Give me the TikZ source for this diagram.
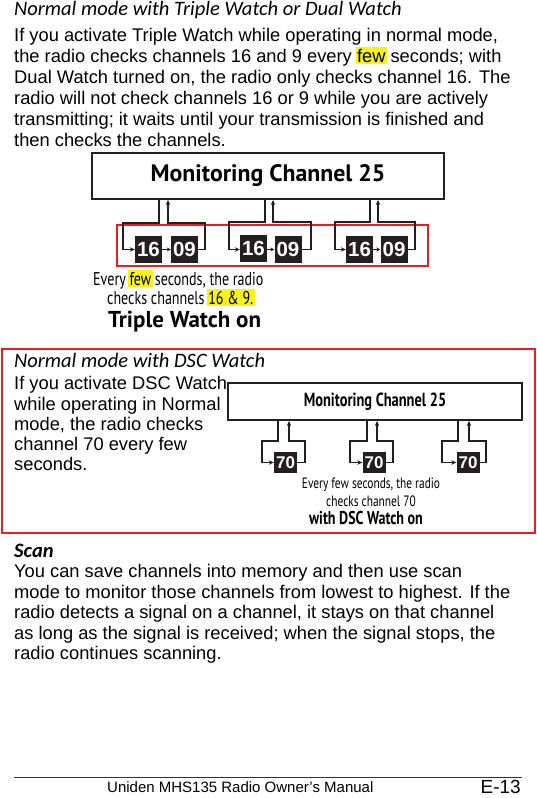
\documentclass[tikz,border=0pt]{standalone}
\usepackage{fontspec}
\setmainfont{Liberation Sans}
\newfontfamily\headfont{Carlito}
\newfontfamily\diagfont{PT Sans}
\newfontfamily\condfont[FakeStretch=0.76]{PT Sans}
\usetikzlibrary{arrows.meta}

\definecolor{boxblack}{HTML}{231F20}
\definecolor{hlyellow}{HTML}{F7F21A}
\definecolor{framered}{HTML}{ED1C24}
\definecolor{rulegreen}{HTML}{1F3A38}

% yellow marker behind a word
\newcommand{\hlword}[1]{\hspace{-1.5pt}{\setlength{\fboxsep}{1.5pt}\colorbox{hlyellow}{#1}}\hspace{-1.5pt}}

\tikzset{
  body/.style={anchor=base west, inner sep=0pt, font=\fontsize{18.3}{20}\selectfont},
  heading/.style={anchor=base west, inner sep=0pt, font=\headfont\itshape\fontsize{20.5}{22}\selectfont},
  monbox/.style={draw=boxblack, line width=2pt, inner sep=0pt},
  chbox/.style={fill=boxblack, text=white, inner sep=0pt, font=\bfseries\fontsize{20.5}{20}\selectfont, minimum width=27pt, minimum height=27pt},
  dscbox/.style={fill=boxblack, text=white, inner sep=0pt, font=\bfseries\fontsize{17}{17}\selectfont, minimum width=23pt, minimum height=21pt},
  wire/.style={draw=boxblack, line width=1.6pt, -{Stealth[length=5pt,width=4.5pt]}},
  caption/.style={inner sep=0pt, font=\condfont\fontsize{18.5}{20}\selectfont},
  smallcap/.style={inner sep=0pt, anchor=base, font=\condfont\fontsize{15}{17}\selectfont}
}

\begin{document}
\begin{tikzpicture}[x=1pt, y=-1pt]
\useasboundingbox (0,0) rectangle (536,798);

% Triple / Dual Watch text
\node[heading] (head1) at (14,15) {Normal mode with Triple Watch or Dual Watch};
\node[body] (p1) at (14,41) {If you activate Triple Watch while operating in normal mode,};
\node[body] (p2) at (14,62) {the radio checks channels 16 and 9 every \hlword{few} seconds; with};
\node[body] (p3) at (14,83) {Dual Watch turned on, the radio only checks channel 16. The};
\node[body] (p4) at (14,104) {radio will not check channels 16 or 9 while you are actively};
\node[body] (p5) at (14,125) {transmitting; it waits until your transmission is finished and};
\node[body] (p6) at (14,146) {then checks the channels.};

% Triple Watch diagram
\node[monbox, minimum width=352pt, minimum height=46pt, font=\diagfont\bfseries\fontsize{23.8}{25}\selectfont] (mon1) at (268,176) {Monitoring Channel 25};
\draw[framered, line width=2.5pt] (117,225) rectangle (428,266);

\node[chbox] (a16) at (148.5,249.5) {16};
\node[chbox] (a09) at (184.5,249.5) {09};
\node[chbox] (b16) at (253.5,248.5) {16};
\node[chbox] (b09) at (288,249.5) {09};
\node[chbox] (c16) at (359.5,249.5) {16};
\node[chbox] (c09) at (394,249.5) {09};

\draw[wire] (159,0 |- mon1.south) |- (123,223) |- (a16.west);
\draw[wire, -{Stealth[length=4pt,width=4pt]}] (a16) -- (a09);
\draw[wire] (a09.east) -| (205,223) -| (168,0 |- mon1.south);

\draw[wire] (265,0 |- mon1.south) |- (229,222) |- (b16.west |- a16.west);
\draw[wire, -{Stealth[length=4pt,width=4pt]}] (b16.east |- b09) -- (b09);
\draw[wire] (b09.east) -| (311,222) -| (273,0 |- mon1.south);

\draw[wire] (370,0 |- mon1.south) |- (335,222) |- (c16.west);
\draw[wire, -{Stealth[length=4pt,width=4pt]}] (c16) -- (c09);
\draw[wire] (c09.east) -| (415,222) -| (378,0 |- mon1.south);

\node[caption, anchor=base west] (cap1) at (93,285) {Every \hlword{few} seconds, the radio};
\node[caption, anchor=base west] (cap2) at (107,304) {checks channels \hlword{16 \& 9.}};
\node[inner sep=0pt, anchor=base west, font=\diagfont\bfseries\fontsize{23}{25}\selectfont] (cap3) at (108,327) {Triple Watch on};

% DSC Watch panel
\draw[framered, line width=1.5pt] (2,349) rectangle (535,533);
\node[heading] (head2) at (14,367) {Normal mode with DSC Watch};
\node[body] (q1) at (14,389) {If you activate DSC Watch};
\node[body] (q2) at (14,410) {while operating in Normal};
\node[body] (q3) at (14,430) {mode, the radio checks};
\node[body] (q4) at (14,450) {channel 70 every few};
\node[body] (q5) at (14,470) {seconds.};

\node[monbox, minimum width=294pt, minimum height=37pt, font=\condfont\bfseries\fontsize{19}{20}\selectfont] (mon2) at (375,401.5) {Monitoring Channel 25};

\node[dscbox] (d70) at (285.5,462.5) {70};
\node[dscbox] (e70) at (374,462.5) {70};
\node[dscbox] (f70) at (468,462.5) {70};

\draw[wire] (278,0 |- mon2.south) |- (262,441) |- (d70.west);
\draw[wire] (d70.east) -| (305,441) -| (289,0 |- mon2.south);

\draw[wire] (367,0 |- mon2.south) |- (350,441) |- (e70.west);
\draw[wire] (e70.east) -| (393,441) -| (377,0 |- mon2.south);

\draw[wire] (458,0 |- mon2.south) |- (442,441) |- (f70.west);
\draw[wire] (f70.east) -| (486,441) -| (469,0 |- mon2.south);

\node[smallcap] (cap4) at (371,488) {Every few seconds, the radio};
\node[smallcap] (cap5) at (371,506) {checks channel 70};
\node[inner sep=0pt, anchor=base, font=\condfont\bfseries\fontsize{18.5}{20}\selectfont] (cap6) at (366,524) {with DSC Watch on};

% Scan
\node[heading, font=\headfont\bfseries\itshape\fontsize{20.5}{22}\selectfont] (head3) at (14,557) {Scan};
\node[body] (s1) at (14,577) {You can save channels into memory and then use scan};
\node[body] (s2) at (14,598) {mode to monitor those channels from lowest to highest. If the};
\node[body] (s3) at (14,618) {radio detects a signal on a channel, it stays on that channel};
\node[body] (s4) at (14,639) {as long as the signal is received; when the signal stops, the};
\node[body] (s5) at (14,659) {radio continues scanning.};

% footer
\draw[rulegreen, line width=1pt] (14,777) -- (522,777);
\node[body, font=\fontsize{15}{17}\selectfont] (foot) at (107,792) {Uniden MHS135 Radio Owner’s Manual};
\node[body, anchor=base east, font=\fontsize{19}{20}\selectfont] (page) at (521,793) {E-13};

\end{tikzpicture}
\end{document}
